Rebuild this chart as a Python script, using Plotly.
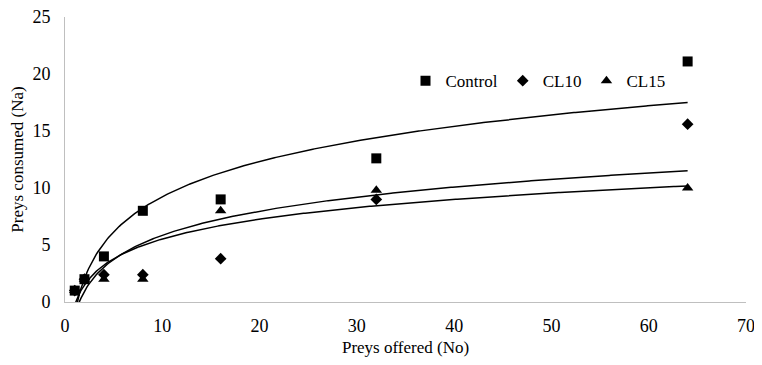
import numpy as np
import plotly.graph_objects as go

preys_offered = [1, 2, 4, 8, 16, 32, 64]
control = [1, 2, 4, 8, 9, 12.6, 21.1]
cl10 = [1, 2, 2.4, 2.4, 3.8, 9.0, 15.6]
cl15 = [1, 2, 2, 2, 8, 9.8, 10.0]

series = [
    ("Control", control, "square", 10),
    ("CL10", cl10, "diamond", 9),
    ("CL15", cl15, "triangle-up", 10),
]

FONT = "Liberation Serif, Times New Roman, serif"
fig = go.Figure()

x_arr = np.array(preys_offered, dtype=float)
xs = np.linspace(1, 64, 400)
for name, ys, sym, sz in series:
    fig.add_trace(go.Scatter(x=preys_offered, y=ys, mode="markers", name=name,
                             marker=dict(symbol=sym, size=sz, color="black"),
                             cliponaxis=False))
for name, ys, sym, sz in series:
    a, b = np.polyfit(np.log(x_arr), np.array(ys, dtype=float), 1)
    fig.add_trace(go.Scatter(x=xs, y=a * np.log(xs) + b, mode="lines",
                             line=dict(color="black", width=1.5),
                             showlegend=False, hoverinfo="skip"))

# page body has an 8px margin, so the figure is drawn offset by (8, 8);
# size it so the page never overflows the 762x365 window
fig.update_layout(
    width=746, height=349,
    margin=dict(l=57, r=8, t=9, b=55),
    paper_bgcolor="white", plot_bgcolor="white",
    font=dict(family=FONT, size=17, color="black"),
    showlegend=True,
    legend=dict(orientation="h", x=0.50, y=0.775, xanchor="left", yanchor="middle",
                font=dict(family=FONT, size=17), itemwidth=30,
                bgcolor="rgba(0,0,0,0)", tracegroupgap=0),
    xaxis=dict(range=[0, 70], dtick=10, showgrid=False, zeroline=False, automargin=False,
               showline=True, linecolor="#bfbfbf", linewidth=1, ticks="",
               ticklabelstandoff=7, ticklabeloverflow="allow",
               title=dict(text="Preys offered (No)", font=dict(family=FONT, size=17), standoff=12),
               tickfont=dict(family=FONT, size=18)),
    yaxis=dict(range=[0, 25], dtick=5, showgrid=False, zeroline=False, automargin=False,
               showline=True, linecolor="#bfbfbf", linewidth=1, ticks="",
               ticklabelstandoff=10, ticklabeloverflow="allow",
               title=dict(text="Preys consumed (Na)", font=dict(family=FONT, size=17), standoff=4),
               tickfont=dict(family=FONT, size=18)),
)

fig.write_html("out.html")
